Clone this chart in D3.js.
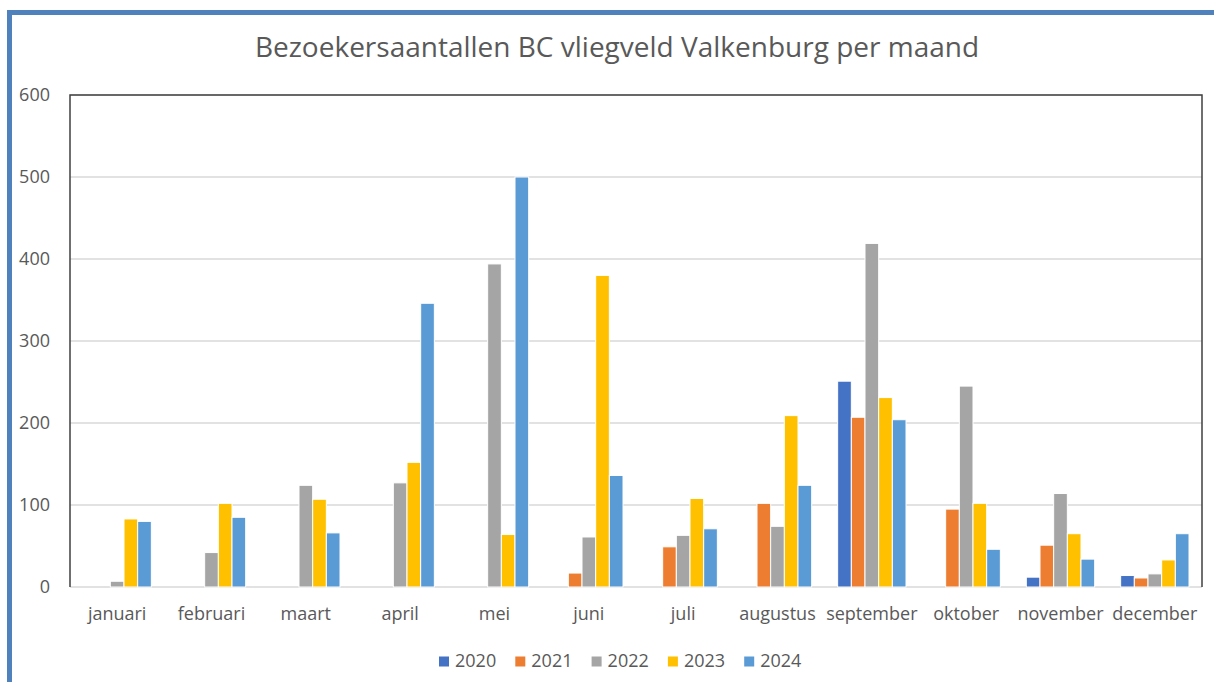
<!DOCTYPE html>
<html>
<head>
<meta charset="utf-8">
<script src="https://cdn.jsdelivr.net/npm/d3@7"></script>
<style>
  html, body { margin: 0; padding: 0; background: #fff; }
  svg text { font-family: "Open Sans", "Liberation Sans", sans-serif; fill: #595959; }
</style>
</head>
<body>
<svg id="chart" width="1214" height="682"></svg>
<script>
const months = ["januari", "februari", "maart", "april", "mei", "juni", "juli",
                "augustus", "september", "oktober", "november", "december"];
const years = ["2020", "2021", "2022", "2023", "2024"];
const colors = ["#4472C4", "#ED7D31", "#A5A5A5", "#FFC000", "#5B9BD5"];
const yTicks = [0, 100, 200, 300, 400, 500, 600];

// visitors per month, one array per year (null = no bar)
const v2020 = [null, null, null, null, null, null, null, null, 251, null, 12, 14];
const v2021 = [null, null, null, null, null, 17, 49, 102, 207, 95, 51, 11];
const v2022 = [7, 42, 124, 127, 394, 61, 63, 74, 419, 245, 114, 16];
const v2023 = [83, 102, 107, 152, 64, 380, 108, 209, 231, 102, 65, 33];
const v2024 = [80, 85, 66, 346, 500, 136, 71, 124, 204, 46, 34, 65];
const series = [v2020, v2021, v2022, v2023, v2024];

const svg = d3.select("#chart");
const plot = { left: 70, right: 1202, top: 95, bottom: 587 };

// outer frame (blue, only left and top visible)
svg.append("path")
    .attr("d", "M9.5,682 L9.5,12.5 L1214,12.5")
    .attr("fill", "none")
    .attr("stroke", "#4F81BD")
    .attr("stroke-width", 5);

svg.append("text")
    .attr("x", 617)
    .attr("y", 57)
    .attr("text-anchor", "middle")
    .attr("font-size", "28px")
    .text("Bezoekersaantallen BC vliegveld Valkenburg per maand");

const x0 = d3.scaleBand().domain(months).range([plot.left, plot.right]).padding(0);
const x1 = d3.scaleBand().domain(years).range([0, x0.bandwidth()])
    .paddingInner(0).paddingOuter(0.95);
const y = d3.scaleLinear().domain([0, 600]).range([plot.bottom, plot.top]);

// gridlines
svg.append("g")
    .selectAll("line")
    .data(yTicks)
    .enter().append("line")
    .attr("x1", plot.left).attr("x2", plot.right)
    .attr("y1", d => y(d)).attr("y2", d => y(d))
    .attr("stroke", "#D9D9D9")
    .attr("stroke-width", 1.5);

// y labels
svg.append("g")
    .selectAll("text")
    .data(yTicks)
    .enter().append("text")
    .attr("x", 50)
    .attr("y", d => y(d) + 6)
    .attr("text-anchor", "end")
    .attr("font-size", "18px")
    .text(d => d);

// bars
const groups = svg.append("g")
    .selectAll("g")
    .data(months)
    .enter().append("g")
    .attr("transform", d => `translate(${x0(d)},0)`);

groups.selectAll("rect")
    .data((m, i) => series.map((s, k) => ({ year: years[k], value: s[i], color: colors[k] }))
        .filter(d => d.value !== null))
    .enter().append("rect")
    .attr("x", d => x1(d.year))
    .attr("width", x1.bandwidth())
    .attr("y", d => y(d.value))
    .attr("height", d => y(0) - y(d.value))
    .attr("fill", d => d.color)
    .attr("stroke", "#fff")
    .attr("stroke-width", 1);

// plot border: dark left, top, right
svg.append("path")
    .attr("d", `M${plot.left},${plot.bottom} L${plot.left},${plot.top} L${plot.right},${plot.top} L${plot.right},${plot.bottom}`)
    .attr("fill", "none")
    .attr("stroke", "#404040")
    .attr("stroke-width", 1.5);

// x labels
svg.append("g")
    .selectAll("text")
    .data(months)
    .enter().append("text")
    .attr("x", d => x0(d) + x0.bandwidth() / 2)
    .attr("y", 620)
    .attr("text-anchor", "middle")
    .attr("font-size", "18px")
    .text(d => d);

// legend
const legend = svg.append("g")
    .selectAll("g")
    .data(years)
    .enter().append("g")
    .attr("transform", (d, i) => `translate(${439 + i * 76.3},0)`);

legend.append("rect")
    .attr("x", 0).attr("y", 656.5)
    .attr("width", 10).attr("height", 10)
    .attr("fill", (d, i) => colors[i]);

legend.append("text")
    .attr("x", 16)
    .attr("y", 667)
    .attr("font-size", "18px")
    .text(d => d);
</script>
</body>
</html>
